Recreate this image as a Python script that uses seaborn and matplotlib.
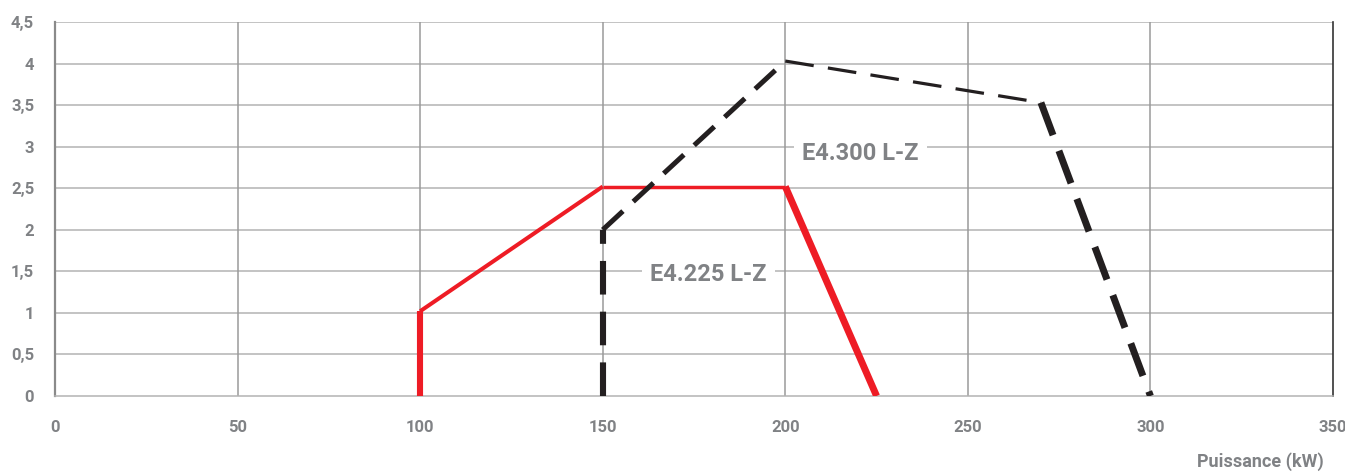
import matplotlib
matplotlib.use("Agg")
import matplotlib.pyplot as plt
import seaborn as sns

# plage de fonctionnement (kW / mbar)
red_x = [100, 100, 150, 200, 225]
red_y = [0, 1.02, 2.52, 2.52, 0]
black_x = [150, 150, 200, 270, 300]
black_y = [0, 2.0, 4.03, 3.53, 0]
x_ticks = [0, 50, 100, 150, 200, 250, 300, 350]
y_ticks = [0, 0.5, 1, 1.5, 2, 2.5, 3, 3.5, 4, 4.5]
labels = ["E4.225 L-Z", "E4.300 L-Z"]

sns.set_style("white")
plt.rcParams['font.family'] = ['Roboto', 'DejaVu Sans']
grey = "#808285"

fig = plt.figure(figsize=(13.45, 4.73), dpi=100)
ax = fig.add_axes([0.0409, 0.1628, 0.9502, 0.7907])

# grid
for y in y_ticks[1:]:
    ax.axhline(y, color="#b3b3b3", lw=1.1, zorder=0)
for x in x_ticks[1:-1]:
    ax.axvline(x, color="#9a9a9a", lw=1.1, zorder=0)

# red curve, one segment at a time (widths vary in the original)
red_w = [4.4, 2.9, 2.5, 5.0]
for i, w in enumerate(red_w):
    sns.lineplot(x=red_x[i:i + 2], y=red_y[i:i + 2], ax=ax, color="#ee1c25",
                 lw=w, sort=False, estimator=None, solid_capstyle="butt", zorder=3)

black_w = [4.4, 3.6, 2.3, 5.0]
black_ls = [(0, (5.5, 2.8)), (0, (5.5, 2.8)), (0, (9.0, 4.5)), (0, (5.0, 2.4))]
for i, w in enumerate(black_w):
    sns.lineplot(x=black_x[i:i + 2], y=black_y[i:i + 2], ax=ax, color="#231f20",
                 lw=w, ls=black_ls[i], sort=False, estimator=None,
                 dash_capstyle="butt", zorder=4)

box = dict(boxstyle="square,pad=0.35", fc="white", ec="none")
ax.text(178.9, 1.46, labels[0], ha="center", va="center", fontsize=17,
        fontweight="bold", color=grey, bbox=box, zorder=5)
ax.text(220.5, 2.92, labels[1], ha="center", va="center", fontsize=17,
        fontweight="bold", color=grey, bbox=box, zorder=5)

ax.set_xlim(0, 350)
ax.set_ylim(0, 4.5)
ax.set_xticks(x_ticks)
ax.set_yticks(y_ticks)
ax.set_xticklabels([str(v) for v in x_ticks])
ax.set_yticklabels([f"{v:g}".replace(".", ",") for v in y_ticks])
ax.tick_params(axis="both", length=5, width=1, color="#9a9a9a", labelsize=12,
               labelcolor=grey, pad=12)
ax.tick_params(axis="y", pad=10)
for lab in ax.get_xticklabels() + ax.get_yticklabels():
    lab.set_fontweight("bold")

ax.spines["top"].set_visible(False)
ax.spines["left"].set_color("#8a8a8a")
ax.spines["left"].set_linewidth(1.6)
ax.spines["bottom"].set_color("#b3b3b3")
ax.spines["bottom"].set_linewidth(1.1)
ax.spines["right"].set_color("#333333")
ax.spines["right"].set_linewidth(1.2)
ax.set_xlabel("")
ax.set_ylabel("")

fig.text(0.984, 0.004, "Puissance (kW)", ha="right", va="bottom", fontsize=13,
         fontweight="bold", color=grey)

fig.savefig("out.png", dpi=100)
